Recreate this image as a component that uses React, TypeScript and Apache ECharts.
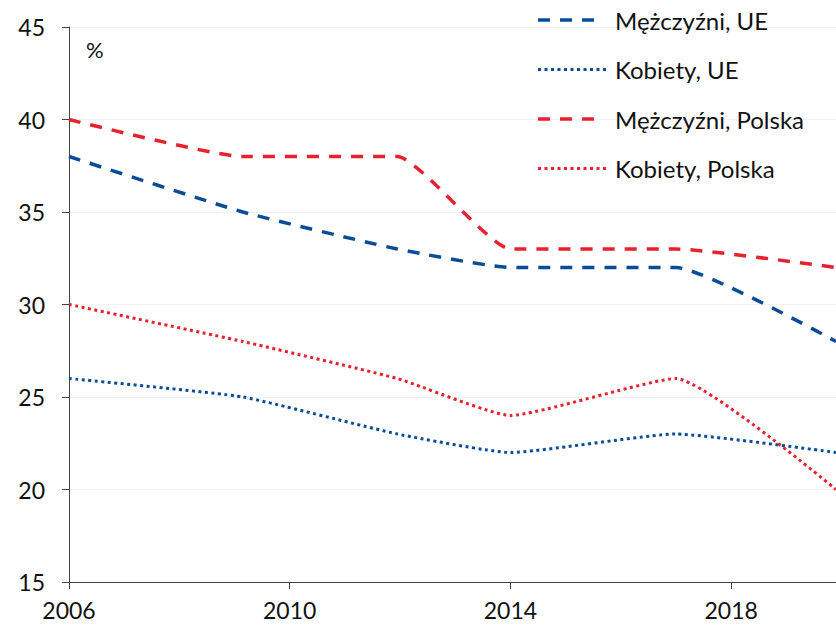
import React, { useEffect, useRef } from "react";
import * as echarts from "echarts";

const years = [2006, 2009.15, 2011.95, 2014, 2017, 2019.9];
const menEU = [38, 35, 33, 32, 32, 28];
const womenEU = [26, 25, 23, 22, 23, 22];
const menPL = [40, 38, 38, 33, 33, 32];
const womenPL = [30, 28, 26, 24, 26, 20];
const xTicks = [2006, 2010, 2014, 2018];
const seriesNames = ["Mężczyźni, UE", "Kobiety, UE", "Mężczyźni, Polska", "Kobiety, Polska"];

const BLUE = "#0a4d97";
const RED = "#e8212e";
const FONT = "Lato";

const pair = (ys: number[]) => years.map((x, i) => [x, ys[i]]);

export default function App() {
  const ref = useRef<HTMLDivElement>(null);
  useEffect(() => {
    if (!ref.current) return;
    const chart = echarts.init(ref.current, null, { renderer: "svg" });
    const dashed = [12, 10];
    const dotted = [3, 3.5];
    const styles = [
      { color: BLUE, dash: dashed, width: 3.5, len: 57 },
      { color: BLUE, dash: dotted, width: 3, len: 70 },
      { color: RED, dash: dashed, width: 3.5, len: 57 },
      { color: RED, dash: dotted, width: 3, len: 70 },
    ];
    const mk = (i: number, data: number[]) => ({
      name: seriesNames[i],
      type: "line",
      data: pair(data),
      symbol: "none",
      smooth: 0.15,
      lineStyle: { color: styles[i].color, width: styles[i].width, type: styles[i].dash, cap: "butt" },
      itemStyle: { color: styles[i].color },
    });
    const legendGraphics: any[] = [];
    seriesNames.forEach((name, i) => {
      const cy = 20 + i * 49.5;
      const s = styles[i];
      legendGraphics.push({
        type: "line",
        z: 100,
        shape: { x1: 538, y1: cy, x2: 538 + s.len, y2: cy },
        style: { stroke: s.color, lineWidth: s.width, lineDash: s.dash },
      });
      legendGraphics.push({
        type: "text",
        z: 100,
        x: 615,
        y: cy,
        style: { text: name, fontSize: 24, fontFamily: FONT, fill: "#111", verticalAlign: "middle" },
      });
    });
    chart.setOption({
      animation: false,
      textStyle: { fontFamily: FONT },
      grid: { left: 69, right: 0, top: 27, bottom: 44, containLabel: false },
      xAxis: {
        type: "value",
        min: 2006,
        max: 2019.9,
        splitLine: { show: false },
        axisLine: { show: true, lineStyle: { color: "#444", width: 1 } },
        axisTick: { show: true, length: 7, lineStyle: { color: "#444" }, customValues: xTicks },
        axisLabel: { fontSize: 23, color: "#111", margin: 16, fontFamily: FONT, customValues: xTicks, formatter: (v: number) => String(v) },
      },
      yAxis: {
        type: "value",
        min: 15,
        max: 45,
        interval: 5,
        splitLine: { show: true, lineStyle: { color: "#f2f2f2", width: 1 } },
        axisLine: { show: true, lineStyle: { color: "#444", width: 1 } },
        axisTick: { show: true, length: 7, lineStyle: { color: "#444" } },
        axisLabel: { fontSize: 23, color: "#111", margin: 24, fontFamily: FONT },
      },
      graphic: [
        { type: "text", z: 100, left: 86, top: 38, style: { text: "%", fontSize: 22, fontFamily: FONT, fill: "#111" } },
        ...legendGraphics,
      ],
      series: [mk(0, menEU), mk(1, womenEU), mk(2, menPL), mk(3, womenPL)],
    });
    return () => chart.dispose();
  }, []);
  return <div ref={ref} style={{ width: 836, height: 626, position: "absolute", left: 0, top: 0 }} />;
}
